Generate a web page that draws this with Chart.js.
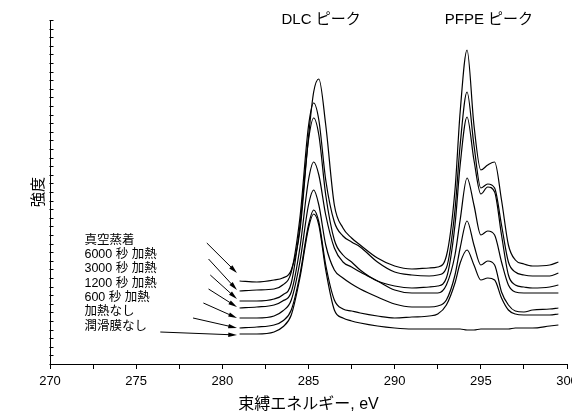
<!DOCTYPE html>
<html>
<head>
<meta charset="utf-8">
<script src="https://cdn.jsdelivr.net/npm/chart.js@4.4.1/dist/chart.umd.min.js"></script>
<style>
  html, body { margin: 0; padding: 0; background: #fff; }
  #wrap { width: 572px; height: 414px; }
</style>
</head>
<body>
<div id="wrap"><canvas id="xps"></canvas></div>
<script>
// 束縛エネルギー (eV)
const energy = [281, 282, 283, 283.5, 284, 284.5, 285, 285.3, 285.6, 286, 286.5, 287, 287.5, 288, 289, 290, 291, 292, 292.5,
  293, 293.5, 293.8, 294.2, 294.6, 295, 295.4, 295.8, 296.2, 296.6, 297, 297.5, 298, 299, 299.5];

// 強度 (任意単位, オフセット込み)
const vacuum = [83, 82, 84, 86, 94, 133, 227, 272, 285, 239, 159, 136, 126, 119, 106, 98, 95, 96, 97,
  108, 174, 252, 314, 239, 194, 199, 202, 164, 119, 104, 100, 98, 99, 102];
const heat6000 = [73, 74, 75, 79, 92, 146, 238, 261, 244, 184, 142, 128, 122, 117, 102, 92, 89, 88, 89,
  96, 154, 219, 272, 219, 176, 180, 176, 139, 102, 92, 89, 88, 88, 91];
const heat3000 = [63, 63, 65, 69, 81, 138, 224, 246, 229, 169, 124, 109, 102, 94, 83, 78, 76, 77, 78,
  86, 139, 199, 247, 204, 170, 177, 172, 129, 89, 79, 77, 76, 77, 79];
const heat1200 = [56, 57, 59, 63, 72, 116, 184, 202, 189, 149, 116, 102, 97, 92, 83, 74, 71, 71, 71,
  79, 109, 144, 186, 159, 129, 133, 129, 102, 79, 72, 71, 71, 71, 71];
const heat600 = [46, 46, 48, 53, 64, 102, 159, 174, 159, 119, 94, 86, 80, 75, 67, 60, 57, 57, 58,
  64, 89, 116, 143, 119, 99, 103, 99, 72, 59, 53, 52, 54, 55, 56];
const noHeat = [36, 37, 39, 43, 54, 89, 139, 154, 142, 99, 64, 55, 53, 51, 48, 46, 47, 48, 50,
  59, 81, 101, 114, 99, 84, 86, 84, 66, 54, 50, 49, 49, 49, 50];
const noLube = [30, 30, 32, 37, 49, 86, 136, 150, 139, 94, 54, 46, 43, 41, 38, 36, 35, 35, 35,
  35, 35, 35, 34, 34, 35, 35, 35, 35, 35, 36, 36, 36, 38, 39];

const seriesNames = ['真空蒸着', '6000 秒 加熱', '3000 秒 加熱', '1200 秒 加熱', '600 秒 加熱', '加熱なし', '潤滑膜なし'];
const seriesValues = [vacuum, heat6000, heat3000, heat1200, heat600, noHeat, noLube];

// ラベルと矢印の位置 (データ座標)
const labelX = 272.0;
const labelY = [123.5, 109.2, 95, 80.7, 66.4, 52.1, 37.8];
const arrowFrom = [[279.1, 121], [279.2, 105], [279.3, 89], [279.2, 75], [278.9, 61], [278.3, 46], [276.4, 32]];
const arrowTo = [[280.85, 91], [280.85, 74], [280.85, 65], [280.85, 57], [280.85, 46], [280.85, 36], [280.85, 29]];

const peakNames = ['DLC ピーク', 'PFPE ピーク'];
const peakX = [285.73, 295.47];
const peakY = 344;

const xMin = 270, xMax = 300, xStep = 2.5;
const yMax = 344, yStep = 8.6;
const yTicks = [];
for (let k = 0; k * yStep <= yMax + 0.01; k++) yTicks.push(k * yStep);

const FONT = "'Liberation Sans', 'Noto Sans CJK JP', sans-serif";

const annotate = {
  id: 'annotate',
  afterDatasetsDraw(chart) {
    const ctx = chart.ctx;
    const x = chart.scales.x, y = chart.scales.y;
    ctx.save();
    ctx.fillStyle = '#000';
    ctx.strokeStyle = '#000';
    // y 軸の目盛り (内側)
    ctx.lineWidth = 1;
    const ax = Math.round(x.left) + 0.5;
    y.ticks.forEach(t => {
      const py = Math.round(y.getPixelForValue(t.value)) + 0.5;
      ctx.beginPath();
      ctx.moveTo(ax - 1, py);
      ctx.lineTo(ax + 3, py);
      ctx.stroke();
    });
    ctx.textBaseline = 'middle';
    ctx.font = '12.5px ' + FONT;
    ctx.textAlign = 'left';
    seriesNames.forEach((name, i) => {
      ctx.fillText(name, x.getPixelForValue(labelX), y.getPixelForValue(labelY[i]));
    });
    arrowFrom.forEach((a, i) => {
      const x1 = x.getPixelForValue(a[0]), y1 = y.getPixelForValue(a[1]);
      const x2 = x.getPixelForValue(arrowTo[i][0]), y2 = y.getPixelForValue(arrowTo[i][1]);
      const ang = Math.atan2(y2 - y1, x2 - x1);
      ctx.beginPath();
      ctx.moveTo(x1, y1);
      ctx.lineTo(x2 - 6 * Math.cos(ang), y2 - 6 * Math.sin(ang));
      ctx.stroke();
      ctx.beginPath();
      ctx.moveTo(x2, y2);
      ctx.lineTo(x2 - 9 * Math.cos(ang - 0.25), y2 - 9 * Math.sin(ang - 0.25));
      ctx.lineTo(x2 - 9 * Math.cos(ang + 0.25), y2 - 9 * Math.sin(ang + 0.25));
      ctx.closePath();
      ctx.fill();
    });
    ctx.font = '15px ' + FONT;
    ctx.textAlign = 'center';
    peakNames.forEach((name, i) => {
      ctx.fillText(name, x.getPixelForValue(peakX[i]), y.getPixelForValue(peakY));
    });
    ctx.restore();
  }
};

new Chart(document.getElementById('xps'), {
  type: 'line',
  data: {
    datasets: seriesValues.map((vals, i) => ({
      label: seriesNames[i],
      data: energy.map((e, k) => ({ x: e, y: vals[k] })),
      borderColor: '#000',
      borderWidth: 1.2,
      pointRadius: 0,
      fill: false,
      cubicInterpolationMode: 'monotone'
    }))
  },
  options: {
    responsive: true,
    maintainAspectRatio: false,
    animation: false,
    devicePixelRatio: 1,
    layout: { padding: { top: 20, right: 5, left: 0, bottom: 0 } },
    plugins: { legend: { display: false }, tooltip: { enabled: false } },
    scales: {
      x: {
        type: 'linear',
        min: xMin,
        max: xMax,
        afterFit: s => { s.height = 50; s.paddingLeft = 0; s.paddingRight = 0; },
        ticks: {
          stepSize: xStep,
          autoSkip: false,
          maxRotation: 0,
          padding: 5,
          color: '#000',
          font: { family: FONT, size: 13 },
          callback: v => (v % 5 === 0 ? String(v) : '')
        },
        grid: { drawOnChartArea: false, tickLength: 5, color: '#000', tickColor: '#000' },
        border: { color: '#000', width: 1 },
        title: {
          display: true,
          text: '束縛エネルギー, eV',
          color: '#000',
          font: { family: FONT, size: 16 },
          padding: { top: 0, bottom: 0 }
        }
      },
      y: {
        type: 'linear',
        min: 0,
        max: yMax,
        afterBuildTicks: s => { s.ticks = yTicks.map(v => ({ value: v })); },
        afterFit: s => { s.width = 50; },
        ticks: { display: false, autoSkip: false },
        grid: { drawOnChartArea: false, drawTicks: false },
        border: { color: '#000', width: 1 },
        title: {
          display: true,
          text: '強度',
          color: '#000',
          font: { family: FONT, size: 15 },
          padding: { top: 30, bottom: 0 }
        }
      }
    }
  },
  plugins: [annotate]
});
</script>
</body>
</html>
